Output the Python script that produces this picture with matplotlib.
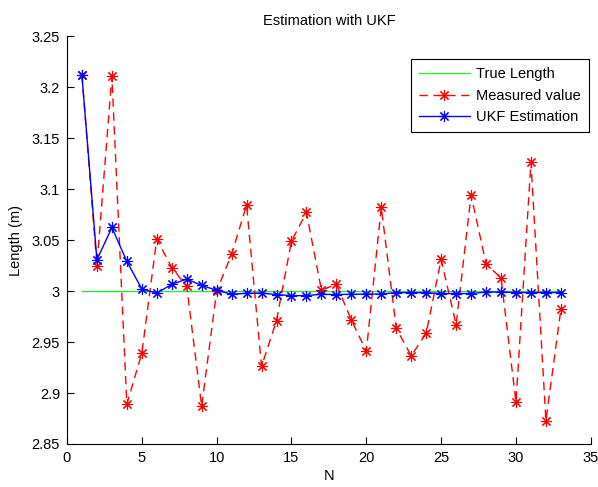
import matplotlib
matplotlib.use("Agg")
import matplotlib.pyplot as plt
from matplotlib.ticker import FuncFormatter

N = list(range(1, 34))
true_length = [3.0] * 33
measured = [3.2115, 3.025, 3.2105, 2.889, 2.939, 3.051, 3.023, 3.0046, 2.887, 3.000,
            3.036, 3.0843, 2.926, 2.971, 3.049, 3.077, 3.001, 3.0065, 2.9715, 2.941,
            3.082, 2.9634, 2.9365, 2.9585, 3.031, 2.967, 3.094, 3.0267, 3.0127, 2.891,
            3.1265, 2.873, 2.982]
ukf = [3.2115, 3.0305, 3.0623, 3.029, 3.002, 2.998, 3.0065, 3.0117, 3.0055, 3.0007,
       2.9968, 2.9978, 2.998, 2.9965, 2.9955, 2.9955, 2.9968, 2.9965, 2.9968, 2.997,
       2.997, 2.9985, 2.9984, 2.9984, 2.9975, 2.9975, 2.9975, 2.999, 2.999, 2.9985,
       2.9985, 2.9985, 2.9985]

xticks = [0, 5, 10, 15, 20, 25, 30, 35]
yticks = [2.85, 2.9, 2.95, 3.0, 3.05, 3.1, 3.15, 3.2, 3.25]

plt.rcParams['font.family'] = ['Liberation Sans', 'DejaVu Sans']
fs = 10.5
star = (8, 2, 0)

fig = plt.figure(figsize=(5.98, 4.87), dpi=100)
ax = fig.add_axes([0.112, 0.0883, 0.876, 0.8377])

ax.plot(N, true_length, color=(0.2, 0.9, 0.2), lw=1.0, label='True Length')
ax.plot(N, measured, color='red', ls=(0, (6, 4)), lw=1.0, marker=star, ms=8,
        markeredgewidth=0.8, label='Measured value')
ax.plot(N, ukf, color='blue', lw=1.0, marker=star, ms=8, markeredgewidth=0.8,
        label='UKF Estimation')

ax.set_xlim(0, 35)
ax.set_ylim(2.85, 3.25)
ax.set_xticks(xticks)
ax.set_yticks(yticks)
ax.yaxis.set_major_formatter(FuncFormatter(lambda v, p: ('%.2f' % v).rstrip('0').rstrip('.')))
ax.tick_params(direction='in', length=5, labelsize=fs, width=0.8, pad=5)
for s in ['top', 'right']:
    ax.spines[s].set_visible(False)
for s in ['left', 'bottom']:
    ax.spines[s].set_linewidth(0.8)

ax.set_title('Estimation with UKF', fontsize=fs, pad=8)
ax.set_xlabel('N', fontsize=fs, labelpad=3)
ax.set_ylabel('Length (m)', fontsize=fs, labelpad=6)

leg = ax.legend(loc='upper right', bbox_to_anchor=(0.997, 0.943), fontsize=fs,
                frameon=True, fancybox=False, edgecolor='black', framealpha=1,
                handlelength=3.5, borderpad=0.55, labelspacing=0.5, handletextpad=0.45,
                borderaxespad=0.0)
leg.get_frame().set_linewidth(0.8)

fig.savefig('out.png', dpi=100)
